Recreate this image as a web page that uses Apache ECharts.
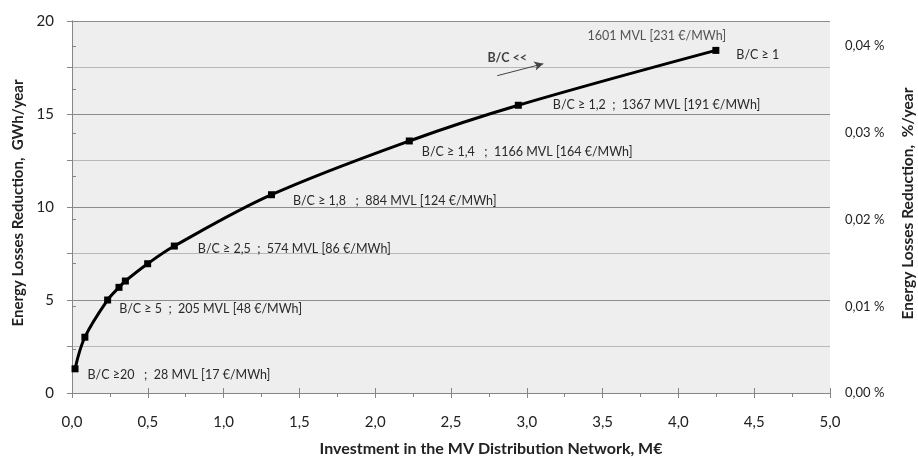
<!DOCTYPE html>
<html>
<head>
<meta charset="utf-8">
<script src="https://cdn.jsdelivr.net/npm/echarts@6/dist/echarts.min.js"></script>
<style>
html,body{margin:0;padding:0;background:#fff;}
#chart{width:918px;height:459px;}
</style>
</head>
<body>
<div id="chart"></div>
<script>
// Investment (M€) and energy losses reduction (GWh/year) of the curve points
const investment = [0.02, 0.085, 0.235, 0.31, 0.352, 0.499, 0.675, 1.316, 2.225, 2.944, 4.247];
const lossReduction = [1.3, 3.0, 5.0, 5.68, 6.02, 6.95, 7.9, 10.66, 13.55, 15.47, 18.42];
const pointLabels = [
  'B/C \u226520   ;  28 MVL [17 \u20ac/MWh]', '',
  'B/C \u2265 5  ;  205 MVL [48 \u20ac/MWh]', '', '', '',
  'B/C \u2265 2,5  ;  574 MVL [86 \u20ac/MWh]',
  'B/C \u2265 1,8   ;  884 MVL [124 \u20ac/MWh]',
  'B/C \u2265 1,4   ;  1166 MVL [164 \u20ac/MWh]',
  'B/C \u2265 1,2  ;  1367 MVL [191 \u20ac/MWh]',
  'B/C \u2265 1'
];
const topLabel = '1601 MVL [231 \u20ac/MWh]';
const arrowText = 'B/C <<';
const arrowFrom = [2.805, 17.06];
const arrowTo = [3.109, 17.70];
const arrowTextAt = [2.74, 18.0];

// tick setup
const xTicks = {min: 0, max: 5, interval: 0.5};
const yLeftTicks = {min: 0, max: 20, interval: 5};
const yRightTicks = {min: 0, max: 0.04292, interval: 0.01};

// label placement (style only)
const labelOffsets = {0: [9, 6], 2: [8, 9], 6: [20, 3], 7: [18, 6], 8: [9, 11], 9: [31, 0], 10: [17, 5]};

const FONT = 'Lato, "Open Sans", sans-serif';
const annStyle = {fontFamily: FONT, fontSize: 12.5, color: '#2a2a2a'};
const comma = (v, d) => v.toFixed(d).replace('.', ',');

const lineData = investment.map((x, i) => {
  const d = {value: [x, lossReduction[i]]};
  if (pointLabels[i]) {
    d.label = Object.assign({show: true, position: 'right', distance: 0, offset: labelOffsets[i] || [6, 0],
      formatter: pointLabels[i]}, annStyle);
  }
  return d;
});
const last = investment.length - 1;

const chart = echarts.init(document.getElementById('chart'), null, {renderer: 'canvas'});
chart.setOption({
  animation: false,
  backgroundColor: '#ffffff',
  grid: {left: 72, right: 88, top: 21, bottom: 66, show: true, backgroundColor: '#eeeeee', borderWidth: 0,
    containLabel: false, outerBoundsMode: 'none'},
  xAxis: [{
    type: 'value', min: xTicks.min, max: xTicks.max, interval: xTicks.interval,
    name: 'Investment in the MV Distribution Network, M\u20ac', nameLocation: 'middle', nameGap: 48,
    nameTextStyle: {fontFamily: FONT, fontSize: 16, fontWeight: 'bold', color: '#222', padding: [0, 0, 0, 80]},
    axisLine: {show: true, lineStyle: {color: '#868686', width: 1}},
    axisTick: {show: true, length: 5, lineStyle: {color: '#868686'}},
    minorTick: {show: true, splitNumber: 2, length: 4, lineStyle: {color: '#868686'}},
    axisLabel: {formatter: v => comma(v, 1), fontFamily: FONT, fontSize: 15, color: '#222', margin: 22},
    splitLine: {show: false}
  }, {
    type: 'value', min: xTicks.min, max: xTicks.max, interval: xTicks.interval, position: 'bottom',
    axisLine: {show: false}, axisLabel: {show: false}, splitLine: {show: false},
    axisTick: {show: true, inside: true, length: 5, lineStyle: {color: '#868686'}}
  }],
  yAxis: [{
    type: 'value', min: yLeftTicks.min, max: yLeftTicks.max, interval: yLeftTicks.interval,
    name: 'Energy Losses Reduction,  GWh/year', nameLocation: 'middle', nameGap: 46, nameRotate: 90,
    nameTextStyle: {fontFamily: FONT, fontSize: 15, fontWeight: 'bold', color: '#222', padding: [0, 0, 0, 8]},
    axisLine: {show: true, lineStyle: {color: '#868686', width: 1}},
    axisTick: {show: true, length: 5, lineStyle: {color: '#868686'}},
    minorTick: {show: true, splitNumber: 2, length: 5, lineStyle: {color: '#868686'}},
    axisLabel: {fontFamily: FONT, fontSize: 15, color: '#222', margin: 18},
    splitLine: {show: true, lineStyle: {color: '#8c8c8c', width: 1}},
    minorSplitLine: {show: true, lineStyle: {color: '#b8b8b8', width: 1}}
  }, {
    type: 'value', position: 'right', min: yRightTicks.min, max: yRightTicks.max, interval: yRightTicks.interval,
    name: 'Energy Losses Reduction,  %/year', nameLocation: 'middle', nameGap: 70, nameRotate: 90,
    nameTextStyle: {fontFamily: FONT, fontSize: 15.5, fontWeight: 'bold', color: '#222', padding: [0, 0, 0, 7]},
    axisLine: {show: true, lineStyle: {color: '#868686', width: 1}},
    axisTick: {show: true, length: 4, lineStyle: {color: '#868686'}},
    minorTick: {show: true, splitNumber: 2, length: 4, lineStyle: {color: '#868686'}},
    axisLabel: {formatter: v => comma(v, 2) + ' %', fontFamily: FONT, fontSize: 13, color: '#222', margin: 15,
      showMaxLabel: false},
    splitLine: {show: false}
  }],
  series: [{
    type: 'line', xAxisIndex: 0, yAxisIndex: 0, smooth: 0.35,
    data: lineData,
    symbol: 'rect', symbolSize: 7,
    itemStyle: {color: '#000'},
    lineStyle: {color: '#000', width: 3},
    markLine: {
      silent: true, symbol: ['none', 'arrow'], symbolSize: [7, 9],
      lineStyle: {color: '#444', width: 1, type: 'solid'}, label: {show: false},
      data: [[{coord: arrowFrom}, {coord: arrowTo}]]
    },
    z: 3
  }, {
    type: 'scatter', xAxisIndex: 0, yAxisIndex: 0, symbolSize: 0, silent: true,
    data: [
      {value: [investment[last], lossReduction[last]],
        label: Object.assign({show: true, position: 'inside', offset: [-59, -14.5], formatter: topLabel}, annStyle)},
      {value: arrowTextAt,
        label: Object.assign({}, annStyle, {show: true, position: 'right', distance: 0, offset: [0, 0], formatter: arrowText, fontWeight: 'bold', color: '#111'})}
    ],
    z: 4
  }]
});
</script>
</body>
</html>
